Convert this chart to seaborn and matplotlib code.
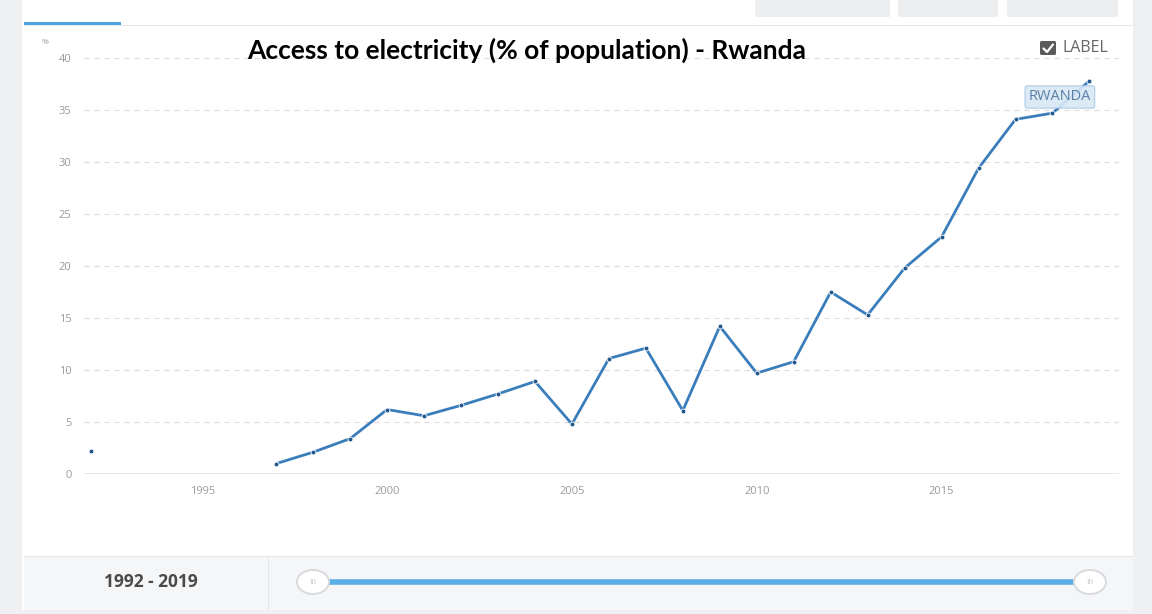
import numpy as np
import pandas as pd
import seaborn as sns
import matplotlib
matplotlib.use("Agg")
import matplotlib.pyplot as plt
from matplotlib.patches import Rectangle, FancyBboxPatch, Ellipse
from matplotlib.lines import Line2D

# ---- data ----
years = [1992, 1997, 1998, 1999, 2000, 2001, 2002, 2003, 2004, 2005, 2006,
         2007, 2008, 2009, 2010, 2011, 2012, 2013, 2014, 2015, 2016, 2017,
         2018, 2019]
access = [2.2, 1.0, 2.1, 3.4, 6.2, 5.6, 6.6, 7.7, 8.9, 4.8, 11.1,
          12.1, 6.1, 14.2, 9.7, 10.8, 17.5, 15.3, 19.8, 22.8, 29.4, 34.1,
          34.7, 37.8]
yticks = [0, 5, 10, 15, 20, 25, 30, 35, 40]
xticks = [1995, 2000, 2005, 2010, 2015]
title = "Access to electricity (% of population) - Rwanda"
country = "RWANDA"
range_label = "1992 - 2019"

df = pd.DataFrame({"year": years, "value": access})
# break the line where years are missing
df["segment"] = (df["year"].diff().fillna(1) > 1).cumsum()

sns.set_theme(style="white")
plt.rcParams["font.family"] = ["Open Sans", "DejaVu Sans"]

W, H = 1152, 614
fig = plt.figure(figsize=(W / 100, H / 100), dpi=100)
fig.patch.set_facecolor("white")

def px(x, y, w, h):
    return (x / W, 1 - (y + h) / H, w / W, h / H)

# page decorations
for (x, y, w, h, c) in [(0, 0, 22, H, "#eef0f2"), (1133, 0, 19, H, "#eef0f2"),
                        (0, 610, W, 4, "#eef0f2"),
                        (755, 0, 135, 17, "#eceef0"), (898, 0, 100, 17, "#eceef0"),
                        (1007, 0, 111, 17, "#eceef0"),
                        (24, 25, 1109, 1, "#e6e8ea"),
                        (24, 22, 97, 3, "#4aa3e0"),
                        (24, 557, 1109, 53, "#f5f6f8"),
                        (24, 556, 1109, 1, "#e4e6e9"),
                        (268, 557, 1, 53, "#e4e6e9")]:
    x0, y0, ww, hh = px(x, y, w, h)
    fig.patches.append(Rectangle((x0, y0), ww, hh, transform=fig.transFigure,
                                 facecolor=c, edgecolor="none", zorder=0))

# slider
fig.lines.append(Line2D([313 / W, 1090 / W], [1 - 582 / H] * 2, transform=fig.transFigure,
                        color="#5aaee6", lw=4, solid_capstyle="butt", zorder=1))
for cx in (313, 1090):
    fig.patches.append(Ellipse((cx / W, 1 - 582 / H), 32 / W, 24 / H,
                               transform=fig.transFigure, facecolor="white",
                               edgecolor="#d8dadd", lw=1.4, zorder=2))
    fig.text(cx / W, 1 - 582 / H, "III", ha="center", va="center", fontsize=6,
             color="#c0c3c7", zorder=3)
fig.text(151 / W, 1 - 582 / H, range_label, ha="center", va="center",
         fontsize=12.5, fontweight="bold", color="#4a4a4a")

# axes
ax = fig.add_axes([84 / W, 1 - 474 / H, (1119 - 84) / W, (474 - 58) / H])
ax.set_facecolor("none")
for seg, sub in df.groupby("segment"):
    sns.lineplot(data=sub, x="year", y="value", ax=ax, color="#3a7dbb", lw=2.0,
                 marker="o", markersize=3.5, markerfacecolor="#24588c",
                 markeredgecolor="white", markeredgewidth=0.6, legend=False, zorder=3)

ax.set_xlim(1991.8, 2019.8)
ax.set_ylim(0, 40)
ax.set_yticks(yticks)
ax.set_xticks(xticks)
ax.set_xticklabels([str(t) for t in xticks])
ax.set_yticklabels([str(t) for t in yticks])
for yv in yticks[1:]:
    ax.axhline(yv, color="#dcdcdc", lw=0.9, ls=(0, (4, 4)), zorder=1)
ax.axhline(0, color="#e3e3e3", lw=1.2, zorder=1)
for s in ax.spines.values():
    s.set_visible(False)
ax.tick_params(axis="y", length=0, pad=9, labelsize=8, labelcolor="#9a9a9a")
ax.tick_params(axis="x", length=3, width=0.8, color="#d0d0d0", pad=6,
               labelsize=8, labelcolor="#9a9a9a")
ax.set_xlabel("")
ax.set_ylabel("")

fig.text(45 / W, 1 - 42 / H, "%", ha="center", va="center", fontsize=6, color="#9a9a9a")

# title
fig.text(527 / W, 1 - 50 / H, title, ha="center", va="center",
         fontsize=19, fontweight="bold", color="black", family=["Lato", "DejaVu Sans"])

# LABEL checkbox
fig.patches.append(FancyBboxPatch((1040 / W, 1 - 55 / H), 16 / W, 14 / H,
                                  boxstyle="round,pad=0,rounding_size=0.002",
                                  transform=fig.transFigure, facecolor="#5a5a5a",
                                  edgecolor="none", zorder=2))
fig.lines.append(Line2D([1043.5 / W, 1047 / W, 1053 / W],
                        [1 - 48.5 / H, 1 - 52 / H, 1 - 44.5 / H],
                        transform=fig.transFigure, color="white", lw=1.6, zorder=3))
fig.text(1063 / W, 1 - 48 / H, "LABEL", ha="left", va="center", fontsize=11.5,
         color="#666666")

# series label
ax.annotate(country, xy=(2018.2, 36.25), ha="center", va="center", fontsize=10.5,
            color="#5b7fa6", zorder=5,
            bbox=dict(boxstyle="round,pad=0.25,rounding_size=0.15", fc="#d9e8f6",
                      ec="#a8c7e6", lw=0.8, alpha=0.9))

fig.savefig("out.png", dpi=100)
